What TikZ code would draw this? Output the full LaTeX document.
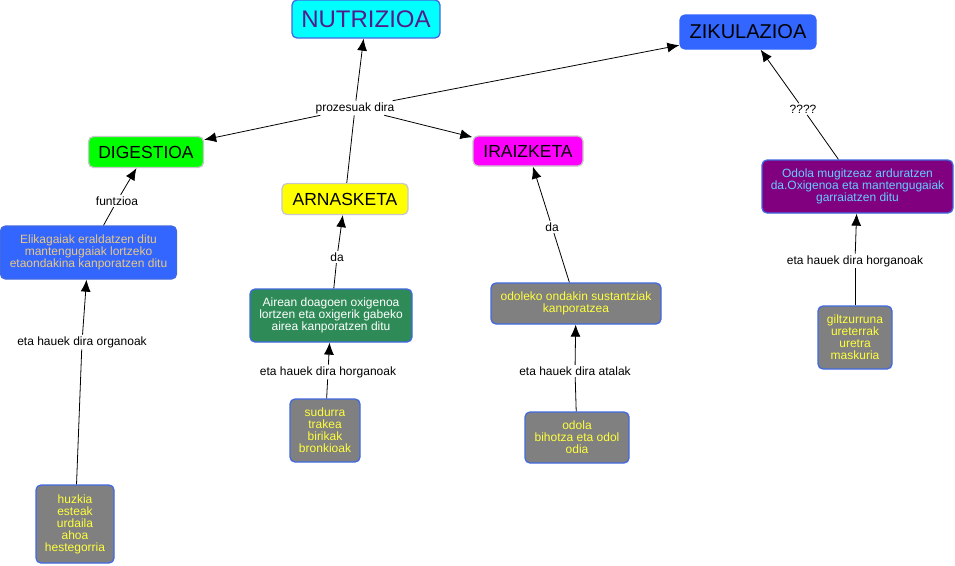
\documentclass[tikz,border=0pt]{standalone}
\usepackage{fontspec}
\setmainfont{Liberation Sans}
\usetikzlibrary{arrows.meta}
\definecolor{bordblue}{RGB}{65,105,225}
\definecolor{fillblue}{RGB}{51,102,255}
\definecolor{nutritext}{RGB}{85,26,139}
\definecolor{nutrifill}{RGB}{0,255,255}
\definecolor{digesfill}{RGB}{0,255,0}
\definecolor{arnasfill}{RGB}{255,255,0}
\definecolor{iraizfill}{RGB}{255,0,255}
\definecolor{odolfill}{RGB}{128,0,128}
\definecolor{organfill}{RGB}{128,128,128}
\definecolor{seagreen}{RGB}{46,139,87}
\definecolor{khaki}{RGB}{232,200,130}
\definecolor{skyblue}{RGB}{102,204,255}
\definecolor{yeltext}{RGB}{255,255,60}
\definecolor{titleborder}{RGB}{200,200,200}
\begin{document}
\begin{tikzpicture}[x=1pt, y=-1pt, font=\fontsize{12}{12}\selectfont, line join=round, >={Latex[length=12pt,width=10pt]},
		concept/.style={draw=bordblue, line width=1.3pt, rounded corners=5pt, align=center, inner sep=1pt},
		title/.style={concept, draw=titleborder, font=\fontsize{17.5}{18}\selectfont},
		organ/.style={concept, fill=organfill, text=yeltext},
		link/.style={inner sep=1.5pt, font=\fontsize{12}{12}\selectfont}]
			\useasboundingbox (0,0) rectangle (955,565);
			% Kontzeptu nagusiak
			\node[concept, fill=nutrifill, text=nutritext, minimum width=148pt, minimum height=38pt, font=\fontsize{24}{26}\selectfont] (nutri) at (366,19) {NUTRIZIOA};
			\node[concept, draw=fillblue, fill=fillblue, minimum width=136pt, minimum height=34pt, font=\fontsize{20}{22}\selectfont] (zikul) at (748,32) {ZIKULAZIOA};
			\node[title, fill=digesfill, minimum width=115pt, minimum height=31pt] (diges) at (146,152) {DIGESTIOA};
			\node[title, fill=arnasfill, minimum width=126pt, minimum height=31pt] (arnas) at (345,199) {ARNASKETA};
			\node[title, fill=iraizfill, minimum width=110pt, minimum height=30pt] (iraiz) at (528,151) {IRAIZKETA};
			% Azalpenak
			\node[concept, fill=fillblue, text=khaki, minimum width=176pt, minimum height=53pt] (elika) at (88.5,252.5) {Elikagaiak eraldatzen ditu\\mantengugaiak lortzeko\\etaondakina kanporatzen ditu};
			\node[concept, fill=seagreen, text=white, minimum width=162pt, minimum height=53pt] (airea) at (331,315.5) {Airean doagoen oxigenoa\\lortzen eta oxigerik gabeko\\airea kanporatzen ditu};
			\node[concept, fill=organfill, text=yeltext, minimum width=170pt, minimum height=41pt] (ondak) at (576,303.5) {odoleko ondakin sustantziak\\kanporatzea};
			\node[concept, fill=odolfill, text=skyblue, minimum width=191pt, minimum height=53pt] (odolm) at (857.5,186.5) {Odola mugitzeaz arduratzen\\da.Oxigenoa eta mantengugaiak\\garraiatzen ditu};
			% Organoak
			\node[organ, minimum width=78pt, minimum height=78pt] (huzk) at (75,524) {huzkia\\esteak\\urdaila\\ahoa\\hestegorria};
			\node[organ, minimum width=70pt, minimum height=63pt] (sudur) at (325,430.5) {sudurra\\trakea\\birikak\\bronkioak};
			\node[organ, minimum width=104pt, minimum height=51pt] (odola) at (577,437.5) {odola\\bihotza eta odol\\odia};
			\node[organ, minimum width=74pt, minimum height=63pt] (giltz) at (855,337.5) {giltzurruna\\ureterrak\\uretra\\maskuria};
			% Lotura hitzak
			\node[link] (proz) at (355,108) {prozesuak dira};
			\node[link] (funtz) at (117,201) {funtzioa};
			\node[link] (daA) at (337,257) {da};
			\node[link] (daI) at (552,227) {da};
			\node[link] (galde) at (803,109) {????};
			\node[link] (orgD) at (82,342) {eta hauek dira organoak};
			\node[link] (orgA) at (328,372) {eta hauek dira horganoak};
			\node[link] (atal) at (575,371) {eta hauek dira atalak};
			\node[link] (orgZ) at (855,261) {eta hauek dira horganoak};
			% Loturak
			\draw[line width=0.8pt] (arnas) -- (proz);
			\draw[line width=0.8pt,->] (proz) -- (nutri);
			\draw[line width=0.8pt,->] (proz) -- (diges);
			\draw[line width=0.8pt,->] (proz) -- (iraiz);
			\draw[line width=0.8pt,->] (proz) -- (zikul);
			\draw[line width=0.8pt] (elika) -- (funtz);
			\draw[line width=0.8pt,->] (funtz) -- (diges);
			\draw[line width=0.8pt] (airea) -- (daA);
			\draw[line width=0.8pt,->] (daA) -- (arnas);
			\draw[line width=0.8pt] (ondak) -- (daI);
			\draw[line width=0.8pt,->] (daI) -- (iraiz);
			\draw[line width=0.8pt] (odolm) -- (galde);
			\draw[line width=0.8pt,->] (galde) -- (zikul);
			\draw[line width=0.8pt] (huzk) -- (orgD);
			\draw[line width=0.8pt,->] (orgD) -- (elika);
			\draw[line width=0.8pt] (sudur) -- (orgA);
			\draw[line width=0.8pt,->] (orgA) -- (airea);
			\draw[line width=0.8pt] (odola) -- (atal);
			\draw[line width=0.8pt,->] (atal) -- (ondak);
			\draw[line width=0.8pt] (giltz) -- (orgZ);
			\draw[line width=0.8pt,->] (orgZ) -- (odolm);
		\end{tikzpicture}
\end{document}
